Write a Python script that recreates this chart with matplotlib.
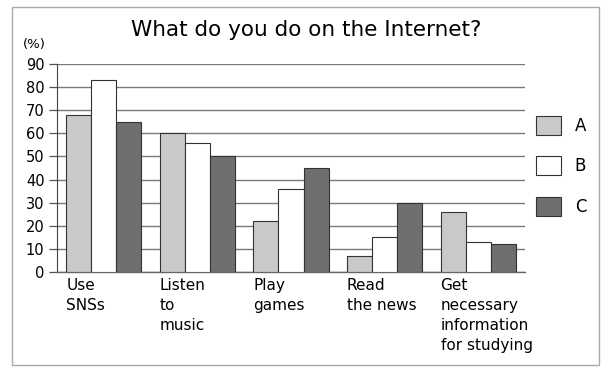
import numpy as np
from matplotlib import pyplot as plt
from matplotlib.patches import Rectangle

# data
categories = ['Use\nSNSs', 'Listen\nto\nmusic', 'Play\ngames', 'Read\nthe news',
              'Get\nnecessary\ninformation\nfor studying']
series = ['A', 'B', 'C']
vals_a = [68, 60, 22, 7, 26]
vals_b = [83, 56, 36, 15, 13]
vals_c = [65, 50, 45, 30, 12]
yticks = list(range(0, 100, 10))

colors = ['#c9c9c9', '#ffffff', '#6f6f6f']

fig = plt.figure(figsize=(6.04, 3.69), dpi=100)
ax = fig.add_axes([0.0944, 0.2629, 0.7748, 0.5637])

x = np.arange(len(categories))
w = 0.268
handles = []
for k, (vals, col) in enumerate(zip([vals_a, vals_b, vals_c], colors)):
	bars = ax.bar(x + (k - 1) * w, vals, w, color=col, edgecolor='#333333',
		linewidth=0.8, zorder=3, label=series[k])
	handles.append(bars)

ax.set_xlim(-0.5, 4.5)
ax.set_ylim(0, 90)
ax.set_yticks(yticks)
ax.set_yticklabels([str(t) for t in yticks], fontsize=10.5)
ax.yaxis.grid(True, color='#7a7a7a', linewidth=1.0, zorder=0)
ax.tick_params(axis='y', length=6, width=0.9, color='#555555', pad=3)

# category labels left aligned under first bar of each group
ax.set_xticks(x - 1.5 * w)
ax.set_xticklabels(categories, ha='left', fontsize=11, linespacing=1.42, va='top')
ax.tick_params(axis='x', length=0, pad=4)

for s in ['top', 'right']:
	ax.spines[s].set_visible(False)
ax.spines['left'].set_color('#444444')
ax.spines['bottom'].set_color('#666666')
ax.spines['bottom'].set_linewidth(1.0)

fig.text(0.507, 0.918, 'What do you do on the Internet?', ha='center', va='center', fontsize=15.5)
fig.text(0.056, 0.88, '(%)', ha='center', va='center', fontsize=9.5)

leg = ax.legend(handles=handles, loc='center left', bbox_to_anchor=(1.01, 0.51),
	frameon=False, fontsize=12, handlelength=1.45, handleheight=1.35,
	labelspacing=1.3, handletextpad=0.85, borderaxespad=0)

# outer frame
fig.patches.append(Rectangle((0.02, 0.01), 0.972, 0.972, transform=fig.transFigure,
	fill=False, edgecolor='#aaaaaa', linewidth=1.0))

fig.savefig('out.png', dpi=100)
